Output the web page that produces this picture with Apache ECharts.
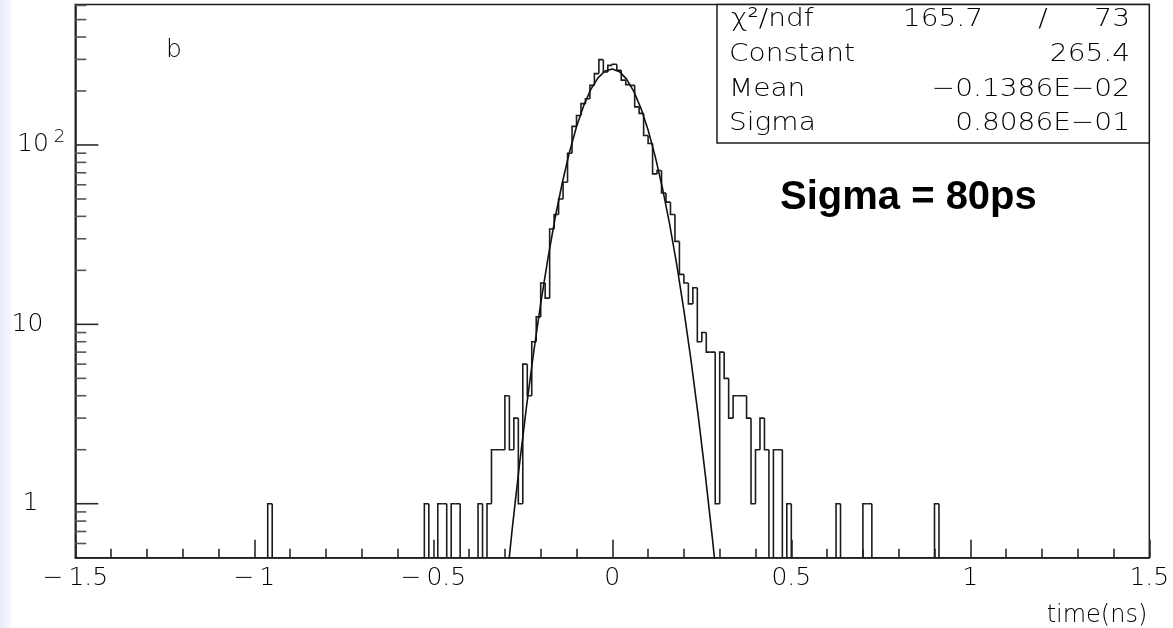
<!DOCTYPE html>
<html><head><meta charset="utf-8">
<script src="https://cdn.jsdelivr.net/npm/echarts@6/dist/echarts.min.js"></script>
<style>html,body{margin:0;padding:0;background:#fff;}#c{width:1173px;height:628px;}</style>
</head><body><div id="c"></div>
<script>
// ---------- data ----------
const binStart = -1.5;
const binWidth = 0.0125;
// counts per bin (240 bins from -1.5 to 1.5)
const counts = [
  0,0,0,0,0,0,0,0,0,0, 0,0,0,0,0,0,0,0,0,0,
  0,0,0,0,0,0,0,0,0,0, 0,0,0,0,0,0,0,0,0,0,
  0,0,0,1,0,0,0,0,0,0, 0,0,0,0,0,0,0,0,0,0,
  0,0,0,0,0,0,0,0,0,0, 0,0,0,0,0,0,0,0,1,0,
  0,1,1,0,1,1,0,0,0,0, 1,0,1,2,2,2,4,2,3,1,
  6,4,8,11,17,14,34,41,50,62, 90,127,146,170,181,215,250,299,255,278,
  282,261,230,217,215,163,150,113,102,69, 72,54,48,41,29,19,17,13,16,8,
  9,7,7,1,7,5,3,4,4,4, 3,1,2,3,2,0,2,2,0,1,
  0,0,0,0,0,0,0,0,0,0, 1,0,0,0,0,0,1,1,0,0,
  0,0,0,0,0,0,0,0,0,0, 0,0,1,0,0,0,0,0,0,0,
  0,0,0,0,0,0,0,0,0,0, 0,0,0,0,0,0,0,0,0,0,
  0,0,0,0,0,0,0,0,0,0, 0,0,0,0,0,0,0,0,0,0
];
// gaussian fit curve, sampled
const fitX = [-0.30,-0.28,-0.26,-0.24,-0.22,-0.20,-0.18,-0.16,-0.14,-0.12,-0.10,-0.08,-0.06,-0.04,-0.02,0.00,
              0.02,0.04,0.06,0.08,0.10,0.12,0.14,0.16,0.18,0.20,0.22,0.24,0.26,0.28,0.30];
const fitY = [0.29,0.71,1.61,3.43,6.90,13.05,23.2,38.9,61.2,90.6,126.3,165.5,204.1,236.8,258.5,265.4,
              256.3,232.8,199.0,160.0,121.1,86.1,57.6,36.3,21.5,11.98,6.27,3.09,1.44,0.63,0.26];
const xMin = -1.5, xMax = 1.5, xStep = 0.5;
const yMin = 0.5, yMax = 607;
const yMajorTicks = [1, 10, 100];
const yMinorTicks = [0.6,0.7,0.8,0.9,2,3,4,5,6,7,8,9,20,30,40,50,60,70,80,90,200,300,400,500,600];
const statsNames = ['χ²/ndf', 'Constant', 'Mean', 'Sigma'];
const statsVals  = ['73', '265.4', '−0.1386E−02', '0.8086E−01'];
const chiValue = '165.7';
const noteText = 'Sigma = 80ps';
const panelTag = 'b';
const xTitle = 'time(ns)';

// ---------- chart ----------
const FONT = "'DejaVu Sans'";
const FW = 300;
const INK = '#1c1c1c';
const TXT = '#000';
const chart = echarts.init(document.getElementById('c'), null, {renderer: 'canvas'});

const histData = counts.map((c, k) => [binStart + k * binWidth, c, k]);
const fitData = fitX.map((x, i) => [x, fitY[i]]);
const yTickData = yMajorTicks.map(v => [xMin, v, 1]).concat(yMinorTicks.map(v => [xMin, v, 0]));

const yLabelFmt = function (v) {
  const l = Math.round(Math.log10(v) * 1000) / 1000;
  if (l === 0) return '{a|1}';
  if (l === 1) return '{b|10}';
  if (l === 2) return '{m|10}{s|2}';
  return '';
};

const statFont = FW + ' 25px ' + FONT;
const SX = 1.12;
function statText(x, y, text, align) {
  return {type: 'text', x: x, y: y, z: 21, scaleX: SX,
          style: {text: text, font: statFont, fill: TXT, textAlign: align, textVerticalAlign: 'middle'}};
}

const option = {
  backgroundColor: '#ffffff',
  animation: false,
  grid: {left: 75.3, right: 23.7, top: 4.5, bottom: 70.3, show: true, borderColor: INK, borderWidth: 1.5, backgroundColor: 'transparent'},
  xAxis: {
    type: 'value', min: xMin, max: xMax, interval: xStep,
    axisLine: {show: true, onZero: false, lineStyle: {color: INK, width: 1.5}},
    axisTick: {show: true, inside: true, length: 18, lineStyle: {color: '#2a2a2a', width: 1.6}},
    minorTick: {show: true, splitNumber: 5, length: 9, lineStyle: {color: '#2a2a2a', width: 1.6}},
    splitLine: {show: false},
    axisLabel: {
      margin: 8, color: TXT, fontFamily: FONT, fontWeight: FW, fontSize: 25,
      formatter: v => (v < 0 ? '\u2212\u2009' + Math.abs(v) : String(v))
    },
    name: xTitle, nameLocation: 'end', nameGap: 0,
    nameTextStyle: {color: TXT, fontFamily: FONT, fontWeight: FW, fontSize: 24, align: 'right', verticalAlign: 'top', padding: [46, 2, 0, 0]}
  },
  yAxis: {
    type: 'log', logBase: 10, min: yMin, max: yMax,
    axisLine: {show: true, onZero: false, lineStyle: {color: INK, width: 1.5}},
    axisTick: {show: false},
    minorTick: {show: false},
    splitLine: {show: false},
    axisLabel: {
      margin: 10, align: 'right', color: TXT, fontFamily: FONT, fontWeight: FW, fontSize: 25,
      showMinLabel: false, showMaxLabel: false,
      formatter: yLabelFmt,
      rich: {
        a: {fontFamily: FONT, fontWeight: FW, fontSize: 25, color: TXT, padding: [0, 27, 0, 0]},
        b: {fontFamily: FONT, fontWeight: FW, fontSize: 25, color: TXT, padding: [0, 22, 0, 0]},
        m: {fontFamily: FONT, fontWeight: FW, fontSize: 25, color: TXT, lineHeight: 34, verticalAlign: 'middle'},
        s: {fontFamily: FONT, fontWeight: FW, fontSize: 18, color: TXT, lineHeight: 11, verticalAlign: 'top', padding: [0, 0, 0, 5]}
      }
    }
  },
  series: [
    {
      type: 'custom', name: 'yticks', coordinateSystem: 'cartesian2d', clip: false, z: 5,
      encode: {x: 0, y: 1},
      data: yTickData,
      renderItem: function (params, api) {
        const p = api.coord([api.value(0), api.value(1)]);
        const len = api.value(2) ? 23 : 11;
        return {type: 'line', shape: {x1: p[0], y1: p[1], x2: p[0] + len, y2: p[1]},
                style: {stroke: api.value(2) ? '#2a2a2a' : '#555', lineWidth: 1.6}};
      }
    },
    {
      type: 'custom', name: 'histogram', coordinateSystem: 'cartesian2d', clip: true, z: 3,
      encode: {x: 0, y: 1},
      data: histData,
      renderItem: function (params, api) {
        const k = api.value(2);
        const c = counts[k];
        const prev = k > 0 ? counts[k - 1] : 0;
        const xl = binStart + k * binWidth, xr = xl + binWidth;
        const lv = v => (v > 0 ? v : yMin);
        const p1 = api.coord([xl, lv(prev)]);
        const p2 = api.coord([xl, lv(c)]);
        const p3 = api.coord([xr, lv(c)]);
        return {type: 'polyline', shape: {points: [p1, p2, p3]},
                style: {stroke: INK, lineWidth: 1.6, fill: null}};
      }
    },
    {
      type: 'line', name: 'fit', data: fitData, showSymbol: false, clip: true, z: 4,
      lineStyle: {color: '#111', width: 1.6}
    }
  ],
  graphic: [
    {type: 'rect', left: 0, top: 0, z: -10, silent: true,
     shape: {width: 11, height: 628},
     style: {fill: new echarts.graphic.LinearGradient(0, 0, 1, 0, [{offset: 0, color: '#e8edf9'}, {offset: 1, color: '#f4f7fd'}])}},
    {type: 'text', x: 166, y: 50, z: 20, style: {text: panelTag, font: FW + ' 25px ' + FONT, fill: TXT, textVerticalAlign: 'middle'}},
    {type: 'rect', z: 20, shape: {x: 717, y: 4.5, width: 432.3, height: 138.5},
     style: {fill: '#fff', stroke: INK, lineWidth: 1.5}},
    statText(731, 19, statsNames[0], 'left'),
    statText(729, 54, statsNames[1], 'left'),
    statText(729, 89, statsNames[2], 'left'),
    statText(729, 123, statsNames[3], 'left'),
    statText(983, 19, chiValue, 'right'),
    statText(1043, 19, '/', 'center'),
    statText(1130, 19, statsVals[0], 'right'),
    statText(1130, 54, statsVals[1], 'right'),
    statText(1130, 89, statsVals[2], 'right'),
    statText(1130, 123, statsVals[3], 'right'),
    {type: 'text', x: 780, y: 198, z: 21, style: {text: noteText, font: "bold 40px 'Liberation Sans'", fill: '#000', textVerticalAlign: 'middle'}}
  ]
};
chart.setOption(option);
</script>
</body></html>
